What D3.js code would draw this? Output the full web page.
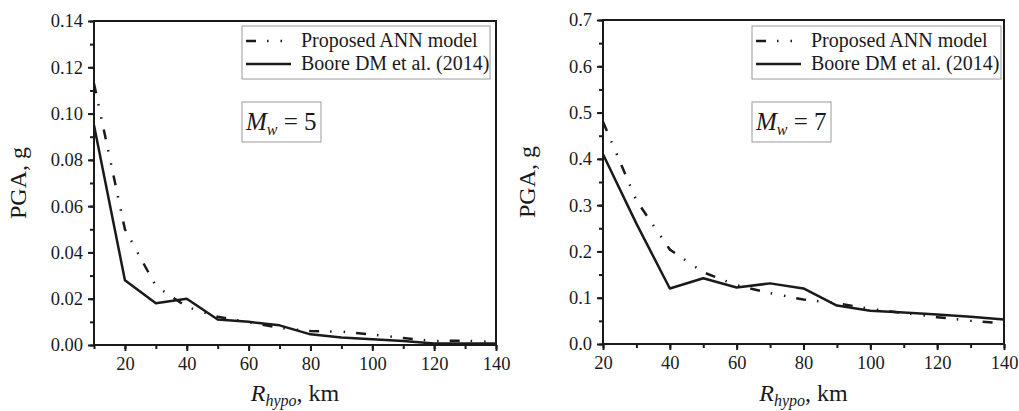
<!DOCTYPE html>
<html><head><meta charset="utf-8">
<script src="https://cdn.jsdelivr.net/npm/d3@7"></script>
<style>
body{margin:0;background:#fff;}
svg{display:block;font-family:"Liberation Serif","Times New Roman",serif;}
</style></head><body>
<svg id="c" width="1019" height="411"></svg>
<script>
// ---- data ----
const distM5 = [10,20,30,40,50,60,70,80,90,100,110,120,130,140];
const annM5 = [0.113,0.050,0.0255,0.0165,0.0122,0.0098,0.0074,0.0060,0.0058,0.0045,0.0030,0.0017,0.0019,0.0012];
const booreM5 = [0.095,0.028,0.018,0.020,0.011,0.010,0.0085,0.0046,0.0032,0.0025,0.0017,0.0006,0.0006,0.0006];
const distM7 = [20,30,40,50,60,70,80,90,100,110,120,130,140];
const annM7 = [0.48,0.31,0.204,0.155,0.127,0.110,0.096,0.088,0.076,0.067,0.058,0.050,0.045];
const booreM7 = [0.41,0.26,0.120,0.142,0.122,0.131,0.120,0.083,0.072,0.068,0.064,0.059,0.053];
const xTicksM5 = [20,40,60,80,100,120,140];
const xTicksM7 = [20,40,60,80,100,120,140];
const yTicksM5 = [0,0.02,0.04,0.06,0.08,0.10,0.12,0.14];
const yTicksM7 = [0,0.1,0.2,0.3,0.4,0.5,0.6,0.7];
const legendLabels = ["Proposed ANN model","Boore DM et al. (2014)"];
const magnitudes = ["5","7"];

const svg = d3.select("#c");
const ink = "#1a1a1a";
const annDash = "10,11,1.5,12,1.5,11";

function panel(opt){
  const x = d3.scaleLinear().domain(opt.xDomain).range([opt.left, opt.right]);
  const y = d3.scaleLinear().domain(opt.yDomain).range([opt.bottom, opt.top]);
  const g = svg.append("g");

  g.append("rect").attr("x",opt.left).attr("y",opt.top)
    .attr("width",opt.right-opt.left).attr("height",opt.bottom-opt.top)
    .attr("fill","none").attr("stroke",ink).attr("stroke-width",2);

  const xMinor = d3.range(opt.xDomain[0], opt.xDomain[1]+0.001, 10);
  const yMinor = d3.range(opt.yDomain[0], opt.yDomain[1]+1e-9, opt.yMinorStep);
  const ax = g.append("g").attr("transform",`translate(0,${opt.bottom})`)
    .call(d3.axisBottom(x).tickValues(xMinor).tickSize(4).tickFormat(""));
  const ay = g.append("g").attr("transform",`translate(${opt.left},0)`)
    .call(d3.axisLeft(y).tickValues(yMinor).tickSize(4).tickFormat(""));
  const bx = g.append("g").attr("transform",`translate(0,${opt.bottom})`)
    .call(d3.axisBottom(x).tickValues(opt.xTicks).tickSize(6).tickPadding(6).tickFormat(d3.format("d")));
  const by = g.append("g").attr("transform",`translate(${opt.left},0)`)
    .call(d3.axisLeft(y).tickValues(opt.yTicks).tickSize(6).tickPadding(5).tickFormat(d3.format(opt.yFmt)));
  [ax,ay,bx,by].forEach(a=>{
    a.select(".domain").remove();
    a.selectAll("line").attr("stroke",ink).attr("stroke-width",2);
    a.selectAll("text").attr("fill",ink).attr("font-size",18.5)
      .attr("font-family","Liberation Serif, Times New Roman, serif");
  });

  const line = d3.line().x((d,i)=>x(opt.dist[i])).y(d=>y(d));
  g.append("path").datum(opt.boore).attr("d",line)
    .attr("fill","none").attr("stroke",ink).attr("stroke-width",2.5).attr("stroke-linejoin","round");
  g.append("path").datum(opt.ann).attr("d",line)
    .attr("fill","none").attr("stroke",ink).attr("stroke-width",2.5)
    .attr("stroke-dasharray",annDash);

  const lx = opt.legX, ly = 26;
  g.append("rect").attr("x",lx).attr("y",ly).attr("width",opt.legW).attr("height",53)
    .attr("fill","#fff").attr("stroke","#9a9a9a").attr("stroke-width",1);
  g.append("line").attr("x1",lx+4).attr("x2",lx+49).attr("y1",ly+15).attr("y2",ly+15)
    .attr("stroke",ink).attr("stroke-width",2.5).attr("stroke-dasharray",annDash);
  g.append("line").attr("x1",lx+4).attr("x2",lx+49).attr("y1",ly+38).attr("y2",ly+38)
    .attr("stroke",ink).attr("stroke-width",2.5);
  g.append("text").attr("x",lx+59).attr("y",ly+21).attr("font-size",20).attr("fill",ink).text(legendLabels[0]);
  g.append("text").attr("x",lx+59).attr("y",ly+44).attr("font-size",20).attr("fill",ink).text(legendLabels[1]);

  g.append("rect").attr("x",lx).attr("y",102).attr("width",79).attr("height",40)
    .attr("fill","#fff").attr("stroke","#9a9a9a").attr("stroke-width",1);
  const mt = g.append("text").attr("x",lx+4).attr("y",130).attr("font-size",25).attr("fill",ink);
  mt.append("tspan").attr("font-style","italic").text("M");
  mt.append("tspan").attr("font-style","italic").attr("font-size",16).attr("dy",5).text("w");
  mt.append("tspan").attr("dy",-5).text(" = " + opt.mag);

  const cx = (opt.left+opt.right)/2;
  const xt = g.append("text").attr("x",cx).attr("y",401).attr("text-anchor","middle")
    .attr("font-size",24).attr("fill",ink);
  xt.append("tspan").attr("font-style","italic").text("R");
  xt.append("tspan").attr("font-style","italic").attr("font-size",16).attr("dy",5).text("hypo");
  xt.append("tspan").attr("dy",-5).text(", km");
  const cy = (opt.top+opt.bottom)/2;
  g.append("text").attr("transform",`translate(${opt.left-68},${cy}) rotate(-90)`)
    .attr("text-anchor","middle").attr("font-size",24).attr("fill",ink).text("PGA, g");
}

panel({left:94,right:496,top:21,bottom:345,xDomain:[10,140],yDomain:[0,0.14],
  xTicks:xTicksM5,yTicks:yTicksM5,yMinorStep:0.01,yFmt:".2f",
  dist:distM5,ann:annM5,boore:booreM5,legX:242,legW:248,mag:magnitudes[0]});
panel({left:603,right:1004,top:20,bottom:344,xDomain:[20,140],yDomain:[0,0.7],
  xTicks:xTicksM7,yTicks:yTicksM7,yMinorStep:0.05,yFmt:".1f",
  dist:distM7,ann:annM7,boore:booreM7,legX:752,legW:249,mag:magnitudes[1]});
</script>
</body></html>
